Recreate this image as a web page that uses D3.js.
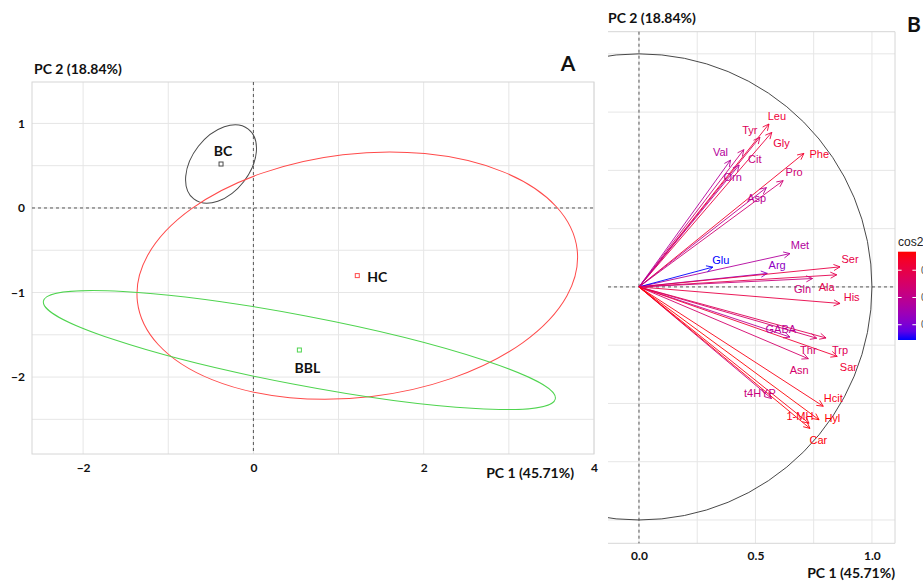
<!DOCTYPE html>
<html>
<head>
<meta charset="utf-8">
<script src="https://cdn.jsdelivr.net/npm/d3@7"></script>
<style>
body { margin: 0; background: #fff; }
svg { display: block; }
</style>
</head>
<body>
<div id="chart"></div>
<script>
// ---- panel A : group centres and their ellipses ----
const groups = ['BC', 'HC', 'BBL'];
const groupPC1 = [-0.38, 1.22, 0.54];
const groupPC2 = [0.52, -0.80, -1.68];
const ellMajor = [0.52, 2.60, 3.06];
const ellMinor = [0.34, 1.44, 0.41];
const ellAngle = [52, 6.8, -10.8];
const groupColors = ['#4a4a4a', '#ff4a4a', '#4fd44f'];

const xTicksA = [-2, 0, 2, 4];
const yTicksA = [1, 0, -1, -2];
const xGridA = [-2, -1, 0, 1, 2, 3, 4];
const yGridA = [1, 0.5, 0, -0.5, -1, -1.5, -2, -2.5];

// ---- panel B : variable loadings ----
const vars = ['Leu', 'Gly', 'Tyr', 'Cit', 'Val', 'Orn', 'Phe', 'Pro', 'Asp', 'Met', 'Glu', 'Arg', 'Ser',
  'Ala', 'Gln', 'His', 'GABA', 'Thr', 'Trp', 'Asn', 'Sar', 't4HYP', 'Hcit', 'Hyl', '1-MH', 'Car'];
const pc1 = [0.558, 0.570, 0.519, 0.450, 0.393, 0.430, 0.708, 0.619, 0.547, 0.648, 0.317, 0.551, 0.863,
  0.849, 0.745, 0.863, 0.648, 0.763, 0.803, 0.727, 0.851, 0.569, 0.791, 0.773, 0.730, 0.734];
const pc2 = [0.699, 0.663, 0.642, 0.589, 0.544, 0.523, 0.573, 0.456, 0.426, 0.143, 0.085, 0.058, 0.086,
  0.052, 0.036, -0.071, -0.215, -0.220, -0.219, -0.308, -0.298, -0.479, -0.512, -0.570, -0.585, -0.607];
const cos2 = [0.80, 0.77, 0.68, 0.55, 0.45, 0.46, 0.83, 0.59, 0.48, 0.44, 0.11, 0.31, 0.75,
  0.72, 0.56, 0.75, 0.47, 0.63, 0.69, 0.62, 0.81, 0.55, 0.89, 0.92, 0.88, 0.91];
// label anchor (repelled) positions, data units
const labPC1 = [0.592, 0.612, 0.476, 0.497, 0.350, 0.402, 0.774, 0.666, 0.505, 0.691, 0.351, 0.593, 0.906,
  0.806, 0.702, 0.913, 0.609, 0.727, 0.863, 0.688, 0.899, 0.519, 0.834, 0.830, 0.691, 0.770];
const labPC2 = [0.733, 0.619, 0.673, 0.547, 0.580, 0.472, 0.569, 0.494, 0.380, 0.179, 0.115, 0.093, 0.118,
  0.000, -0.011, -0.043, -0.179, -0.269, -0.269, -0.358, -0.344, -0.455, -0.477, -0.563, -0.555, -0.658];

const xTicksB = [0, 0.5, 1];
const xGridB = [0, 0.25, 0.5, 0.75, 1];
const yGridB = [1, 0.75, 0.5, 0.25, 0, -0.25, -0.5, -0.75, -1];
const legendTicks = [0.25, 0.5, 0.75];

const W = 923, H = 583;
const boldFont = 'Lato, "Open Sans", sans-serif';
const plainFont = '"Liberation Sans", Arial, sans-serif';

const svg = d3.select('#chart').append('svg')
  .attr('width', W)
  .attr('height', H);

// ================= PANEL A =================
const xA = d3.scaleLinear().domain([-2.6, 4]).range([32, 594]);
const yA = d3.scaleLinear().domain([-2.91, 1.49]).range([454, 82]);

const gA = svg.append('g');

gA.selectAll('.gxa').data(xGridA).enter().append('line')
  .attr('x1', d => xA(d)).attr('x2', d => xA(d))
  .attr('y1', yA.range()[1]).attr('y2', yA.range()[0])
  .attr('stroke', '#e6e6e6').attr('stroke-width', 1);
gA.selectAll('.gya').data(yGridA).enter().append('line')
  .attr('x1', xA.range()[0]).attr('x2', xA.range()[1])
  .attr('y1', d => yA(d)).attr('y2', d => yA(d))
  .attr('stroke', '#e6e6e6').attr('stroke-width', 1);

gA.append('rect')
  .attr('x', 32).attr('y', 82).attr('width', 562).attr('height', 372)
  .attr('fill', 'none').attr('stroke', '#d6d6d6');

gA.append('line')
  .attr('x1', xA(0)).attr('x2', xA(0)).attr('y1', 82).attr('y2', 454)
  .attr('stroke', '#444').attr('stroke-dasharray', '3,3').attr('stroke-width', 0.9);
gA.append('line')
  .attr('x1', 32).attr('x2', 594).attr('y1', yA(0)).attr('y2', yA(0))
  .attr('stroke', '#444').attr('stroke-dasharray', '3,3').attr('stroke-width', 0.9);

const kx = xA(1) - xA(0), ky = yA(0) - yA(1);
gA.selectAll('.ell').data(groups).enter().append('ellipse')
  .attr('cx', 0).attr('cy', 0)
  .attr('rx', (d, i) => ellMajor[i] * kx)
  .attr('ry', (d, i) => ellMinor[i] * ky)
  .attr('transform', (d, i) => `translate(${xA(groupPC1[i])},${yA(groupPC2[i])}) rotate(${-ellAngle[i]})`)
  .attr('fill', 'none')
  .attr('stroke', (d, i) => groupColors[i])
  .attr('stroke-width', 1);

gA.selectAll('.pt').data(groups).enter().append('rect')
  .attr('x', (d, i) => xA(groupPC1[i]) - 2)
  .attr('y', (d, i) => yA(groupPC2[i]) - 2)
  .attr('width', 4).attr('height', 4)
  .attr('fill', '#fff')
  .attr('stroke', (d, i) => groupColors[i])
  .attr('stroke-width', 1);

// group names: BC above, HC right, BBL below
const nameDx = [2, 10, 8];
const nameDy = [-14, 1, 17];
const nameAnchor = ['middle', 'start', 'middle'];
gA.selectAll('.gname').data(groups).enter().append('text')
  .attr('x', (d, i) => xA(groupPC1[i]) + nameDx[i])
  .attr('y', (d, i) => yA(groupPC2[i]) + nameDy[i])
  .attr('text-anchor', (d, i) => nameAnchor[i])
  .attr('dominant-baseline', 'central')
  .style('font-family', boldFont).style('font-weight', 700).style('font-size', '14px')
  .attr('fill', '#111')
  .text(d => d);

const xAxisA = d3.axisBottom(xA).tickValues(xTicksA).tickSize(0).tickPadding(9)
  .tickFormat(d3.format('d'));
gA.append('g')
  .attr('transform', 'translate(0,454)')
  .call(xAxisA)
  .call(g => g.select('.domain').remove())
  .selectAll('text')
  .style('font-family', boldFont).style('font-weight', 700).style('font-size', '12px').attr('fill', '#111');

const yAxisA = d3.axisLeft(yA).tickValues(yTicksA).tickSize(0).tickPadding(7)
  .tickFormat(d3.format('d'));
gA.append('g')
  .attr('transform', 'translate(32,0)')
  .call(yAxisA)
  .call(g => g.select('.domain').remove())
  .selectAll('text')
  .style('font-family', boldFont).style('font-weight', 700).style('font-size', '12px').attr('fill', '#111');

gA.append('text').attr('x', 34).attr('y', 74)
  .style('font-family', boldFont).style('font-weight', 700).style('font-size', '14px').attr('fill', '#111')
  .text('PC 2 (18.84%)');
gA.append('text').attr('x', 574).attr('y', 478).attr('text-anchor', 'end')
  .style('font-family', boldFont).style('font-weight', 700).style('font-size', '14px').attr('fill', '#111')
  .text('PC 1 (45.71%)');
gA.append('text').attr('x', 568).attr('y', 71).attr('text-anchor', 'middle')
  .style('font-family', boldFont).style('font-weight', 700).style('font-size', '21px').attr('fill', '#111')
  .text('A');

// ================= PANEL B =================
const xB = d3.scaleLinear().domain([-0.133, 1.099]).range([608, 895]);
const yB = d3.scaleLinear().domain([-1.10, 1.095]).range([543.3, 31.7]);
const colB = d3.scaleLinear().domain([d3.min(cos2), d3.max(cos2)])
  .range(['blue', 'red']).interpolate(d3.interpolateLab);

const gB = svg.append('g');

svg.append('clipPath').attr('id', 'clipB').append('rect')
  .attr('x', 608).attr('y', 31.7).attr('width', 287).attr('height', 511.6);

gB.selectAll('.gxb').data(xGridB).enter().append('line')
  .attr('x1', d => xB(d)).attr('x2', d => xB(d))
  .attr('y1', 31.7).attr('y2', 543.3)
  .attr('stroke', '#e6e6e6');
gB.selectAll('.gyb').data(yGridB).enter().append('line')
  .attr('x1', 608).attr('x2', 895)
  .attr('y1', d => yB(d)).attr('y2', d => yB(d))
  .attr('stroke', '#e6e6e6');

gB.append('path')
  .attr('d', 'M608,31.7H895V543.3H608')
  .attr('fill', 'none').attr('stroke', '#d6d6d6');

gB.append('line')
  .attr('x1', xB(0)).attr('x2', xB(0)).attr('y1', 31.7).attr('y2', 543.3)
  .attr('stroke', '#444').attr('stroke-dasharray', '3,3').attr('stroke-width', 0.9);
gB.append('line')
  .attr('x1', 608).attr('x2', 895).attr('y1', yB(0)).attr('y2', yB(0))
  .attr('stroke', '#444').attr('stroke-dasharray', '3,3').attr('stroke-width', 0.9);

// correlation circle
gB.append('ellipse')
  .attr('clip-path', 'url(#clipB)')
  .attr('cx', xB(0)).attr('cy', yB(0))
  .attr('rx', xB(1) - xB(0)).attr('ry', yB(0) - yB(1))
  .attr('fill', 'none').attr('stroke', '#333').attr('stroke-width', 0.9);

// arrows
const arrows = gB.append('g');
const headLen = 7, headAng = Math.PI / 7;
vars.forEach((v, i) => {
  const x0 = xB(0), y0 = yB(0), x1 = xB(pc1[i]), y1 = yB(pc2[i]);
  const a = Math.atan2(y1 - y0, x1 - x0);
  const c = colB(cos2[i]);
  arrows.append('line')
    .attr('x1', x0).attr('y1', y0).attr('x2', x1).attr('y2', y1)
    .attr('stroke', c).attr('stroke-width', 0.9);
  arrows.append('path')
    .attr('d', `M${x1 - headLen * Math.cos(a - headAng)},${y1 - headLen * Math.sin(a - headAng)}` +
      `L${x1},${y1}L${x1 - headLen * Math.cos(a + headAng)},${y1 - headLen * Math.sin(a + headAng)}`)
    .attr('fill', 'none').attr('stroke', c).attr('stroke-width', 0.9);
});

gB.selectAll('.vlab').data(vars).enter().append('text')
  .attr('x', (d, i) => xB(labPC1[i]))
  .attr('y', (d, i) => yB(labPC2[i]))
  .attr('text-anchor', 'middle')
  .attr('dominant-baseline', 'central')
  .style('font-family', plainFont).style('font-size', '11px')
  .attr('fill', (d, i) => colB(cos2[i]))
  .text(d => d);

const xAxisB = d3.axisBottom(xB).tickValues(xTicksB).tickSize(0).tickPadding(8.5)
  .tickFormat(d3.format('.1f'));
gB.append('g')
  .attr('transform', 'translate(0,543.3)')
  .call(xAxisB)
  .call(g => g.select('.domain').remove())
  .selectAll('text')
  .style('font-family', boldFont).style('font-weight', 700).style('font-size', '12px').attr('fill', '#111');

gB.append('text').attr('x', 608).attr('y', 23)
  .style('font-family', boldFont).style('font-weight', 700).style('font-size', '14px').attr('fill', '#111')
  .text('PC 2 (18.84%)');
gB.append('text').attr('x', 895).attr('y', 578).attr('text-anchor', 'end')
  .style('font-family', boldFont).style('font-weight', 700).style('font-size', '14px').attr('fill', '#111')
  .text('PC 1 (45.71%)');
gB.append('text').attr('x', 907).attr('y', 32)
  .style('font-family', boldFont).style('font-weight', 700).style('font-size', '21px').attr('fill', '#111')
  .text('B');

// colour bar legend
const legTop = 251.7, legBot = 340, legX = 898, legW = 18;
const legY = d3.scaleLinear().domain(colB.domain()).range([legBot, legTop]);
const grad = svg.append('defs').append('linearGradient')
  .attr('id', 'cosGrad').attr('x1', 0).attr('y1', 1).attr('x2', 0).attr('y2', 0);
grad.selectAll('stop').data(d3.range(0, 1.0001, 0.1)).enter().append('stop')
  .attr('offset', d => d)
  .attr('stop-color', d => colB(colB.domain()[0] + d * (colB.domain()[1] - colB.domain()[0])));

const gL = svg.append('g');
gL.append('text').attr('x', legX).attr('y', 246)
  .style('font-family', plainFont).style('font-size', '12px').attr('fill', '#222')
  .text('cos2');
gL.append('rect')
  .attr('x', legX).attr('y', legTop).attr('width', legW).attr('height', legBot - legTop)
  .attr('fill', 'url(#cosGrad)');
legendTicks.forEach(t => {
  gL.append('line').attr('x1', legX).attr('x2', legX + 3.6)
    .attr('y1', legY(t)).attr('y2', legY(t)).attr('stroke', '#fff').attr('stroke-width', 1);
  gL.append('line').attr('x1', legX + legW - 3.6).attr('x2', legX + legW)
    .attr('y1', legY(t)).attr('y2', legY(t)).attr('stroke', '#fff').attr('stroke-width', 1);
  gL.append('text').attr('x', legX + legW + 5).attr('y', legY(t))
    .attr('dominant-baseline', 'central')
    .style('font-family', plainFont).style('font-size', '10px').attr('fill', '#4d4d4d')
    .text(d3.format('.2f')(t));
});
</script>
</body>
</html>
